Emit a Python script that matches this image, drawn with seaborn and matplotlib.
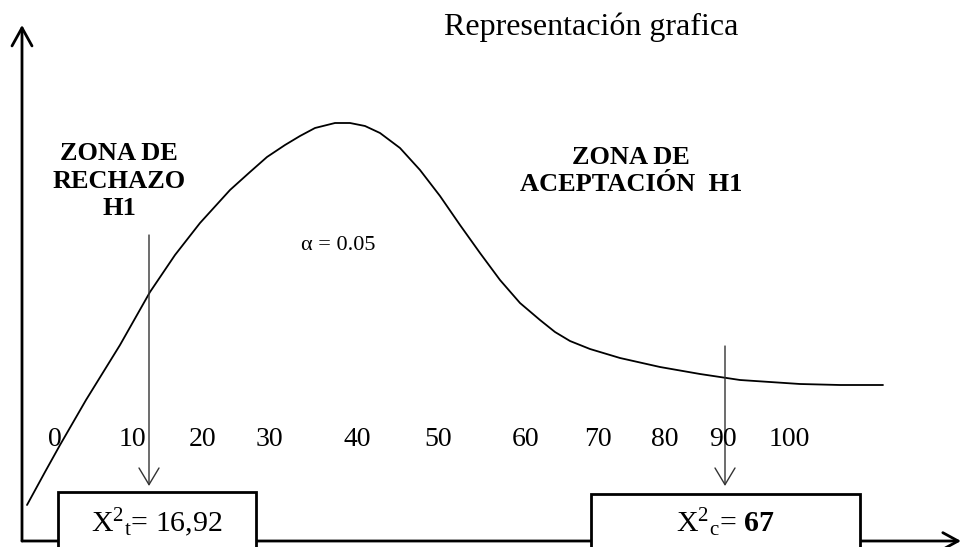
import matplotlib
matplotlib.use("Agg")
import matplotlib.pyplot as plt
import seaborn as sns
import pandas as pd
from matplotlib.patches import Rectangle

# data (canvas units, y grows downward)
curve_x = [27, 45, 60, 86, 120, 150, 175, 200, 230, 250, 267, 285, 300, 315, 335,
           350, 365, 380, 400, 420, 440, 460, 480, 500, 520, 540, 555, 570, 590,
           620, 660, 700, 740, 800, 840, 883]
curve_y = [505, 472, 445, 400, 345, 292, 255, 223, 190, 172, 157, 145, 136, 128, 123,
           123, 126, 133, 148, 170, 196, 225, 253, 280, 303, 320, 332, 341, 349,
           358, 367, 374, 380, 384, 385, 385]
tick_labels = ['0', '10', '20', '30', '40', '50', '60', '70', '80', '90', '100']
titulo = 'Representación grafica'
zona_rechazo = 'ZONA DE\nRECHAZO\nH1'
zona_aceptacion = 'ZONA DE\nACEPTACIÓN  H1'
alfa = 'α = 0.05'
chi_t = r'X$^{2}$$_{\mathrm{t}}$= 16,92'
chi_c = r'X$^{2}$$_{\mathrm{c}}$= $\mathbf{67}$'

# layout
tick_x = [55, 132, 203, 269, 357, 438, 526, 598, 665, 723, 789]
tick_y = 440

sns.set_style('white')
plt.rcParams['font.family'] = ['Liberation Serif', 'DejaVu Serif']
plt.rcParams['text.color'] = 'black'
plt.rcParams['mathtext.fontset'] = 'custom'
plt.rcParams['mathtext.rm'] = 'Liberation Serif'
plt.rcParams['mathtext.it'] = 'Liberation Serif:italic'
plt.rcParams['mathtext.bf'] = 'Liberation Serif:bold'

fig = plt.figure(figsize=(9.63, 5.47), dpi=100)
ax = fig.add_axes([0, 0, 1, 1])
ax.set_xlim(0, 963)
ax.set_ylim(547, 0)
ax.axis('off')

df = pd.DataFrame({'x': curve_x, 'y': curve_y})
sns.lineplot(data=df, x='x', y='y', sort=False, color='black', lw=1.3, ax=ax)

# ejes con flecha
ax.annotate('', xy=(22, 25), xytext=(22, 541),
            arrowprops=dict(arrowstyle='->,head_length=0.65,head_width=0.36',
                            lw=2, color='black', mutation_scale=20, shrinkA=0, shrinkB=0))
ax.annotate('', xy=(961, 541), xytext=(22, 541),
            arrowprops=dict(arrowstyle='->,head_length=0.55,head_width=0.3',
                            lw=2, color='black', mutation_scale=20, shrinkA=0, shrinkB=0))

# flechas finas
for x0, y0 in [(149, 235), (725, 346)]:
    ax.annotate('', xy=(x0, 486), xytext=(x0, y0),
                arrowprops=dict(arrowstyle='->,head_length=0.6,head_width=0.36',
                                lw=1, color='#333333', mutation_scale=20, shrinkA=0, shrinkB=0))

# cajas
ax.add_patch(Rectangle((58, 492), 198, 70, facecolor='white', edgecolor='black', lw=2, zorder=3))
ax.add_patch(Rectangle((591, 494), 269, 70, facecolor='white', edgecolor='black', lw=2, zorder=3))
ax.text(157, 523, chi_t, fontsize=21.5, ha='center', va='center', zorder=4)
ax.text(725, 523, chi_c, fontsize=21.5, ha='center', va='center', zorder=4)

for lab, x in zip(tick_labels, tick_x):
    ax.text(x, tick_y, lab, fontsize=20, ha='center', va='center')

ax.text(591, 27, titulo, fontsize=23, ha='center', va='center')
ax.text(119, 181, zona_rechazo, fontsize=19, fontweight='bold', ha='center', va='center',
        linespacing=1.25)
ax.text(631, 171, zona_aceptacion, fontsize=19, fontweight='bold', ha='center', va='center',
        linespacing=1.25)
ax.text(338, 245, alfa, fontsize=16, ha='center', va='center')

fig.savefig('out.png', dpi=100)
